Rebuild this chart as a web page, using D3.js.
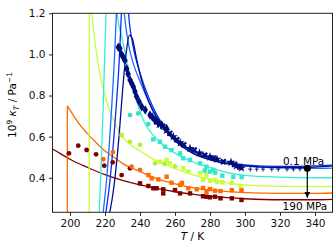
<!DOCTYPE html>
<html>
<head>
<meta charset="utf-8">
<script src="https://cdn.jsdelivr.net/npm/d3@7"></script>
<style>
  body { margin: 0; background: #fff; }
  text { font-family: "DejaVu Sans", sans-serif; }
</style>
</head>
<body>
<div id="chart"></div>
<script>
// tick values
var xTicks = [200, 220, 240, 260, 280, 300, 320, 340];
var yTicks = [0.4, 0.6, 0.8, 1.0, 1.2];

// model curves [T, kappa] (peaks above 1.2 are clipped)
var curveNavy = [[222,0.2],[225,0.35],[228,0.6],[230,0.82],[232,1.0],[234,1.094],[235.5,1.08],[238,0.98],[241,0.87],[245,0.77],[250,0.685],[255,0.625],[260,0.58],[270,0.52],[280,0.487],[290,0.468],[300,0.458],[315,0.451],[330,0.45],[340,0.452],[350,0.458]];
var curveBlue = [[220,0.2],[223,0.4],[226,0.7],[228,0.95],[230,1.3],[231,1.4],[232.5,1.3],[234,1.15],[236,1.04],[240,0.91],[245,0.79],[250,0.7],[260,0.59],[270,0.53],[280,0.495],[290,0.475],[300,0.463],[320,0.455],[340,0.458],[350,0.462]];
var curveRoyal = [[218.5,0.2],[221,0.4],[223.5,0.7],[225.5,1.0],[227,1.3],[228,1.5],[229.5,1.35],[231,1.2],[233,1.07],[236,0.96],[240,0.87],[245,0.77],[250,0.69],[260,0.585],[270,0.525],[280,0.49],[290,0.47],[300,0.458],[320,0.448],[340,0.446],[350,0.447]];
var curveCyan = [[216.5,0.2],[218,0.5],[219.5,0.9],[220.6,1.2],[222,1.6],[224,1.7],[226,1.4],[227,1.2],[230,1.07],[235,0.87],[242,0.68],[250,0.585],[260,0.52],[270,0.478],[280,0.45],[290,0.425],[300,0.412],[320,0.403],[340,0.4],[350,0.4]];
var limeRise = [[211,0.2],[211,1.4]];
var curveLime = [[211,1.4],[212.4,1.2],[214,1.08],[217,0.91],[220,0.8],[225,0.68],[230,0.6],[240,0.53],[250,0.48],[260,0.445],[270,0.415],[280,0.393],[290,0.375],[300,0.365],[320,0.358],[350,0.357]];
var orangeRise = [[198.5,0.2],[198.5,0.75]];
var curveOrange = [[198.5,0.75],[200,0.73],[205,0.665],[210,0.615],[215,0.57],[220,0.53],[225,0.5],[230,0.47],[240,0.43],[250,0.395],[260,0.37],[270,0.352],[280,0.34],[290,0.333],[300,0.328],[320,0.324],[340,0.324],[350,0.326]];
var curveRed = [[190,0.54],[195,0.515],[200,0.49],[210,0.45],[220,0.415],[230,0.387],[240,0.365],[250,0.347],[260,0.332],[270,0.32],[280,0.31],[290,0.303],[300,0.298],[320,0.293],[340,0.293],[350,0.295]];

// measured points [T, kappa]
var navyDiamonds = [[227.6,1.035],[228.5,1.03],[229.5,1.0],[230.5,0.985],[231.4,0.97],[232.4,0.93],[233.2,0.905],[234.3,0.876],[235.2,0.86],[236.2,0.843],[237.1,0.82],[238.1,0.794],[239.5,0.77],[241,0.746],[243,0.73],[245.7,0.705],[247,0.695],[248.6,0.68],[250.5,0.665],[252.4,0.657],[255.2,0.64]];
var navyCrosses = [[249.5,0.672],[253,0.65],[257,0.616],[261,0.585],[265,0.56],[271,0.535],[277,0.51],[282,0.495],[287.6,0.478],[294,0.465],[297,0.452]];
var navyStars = [[251,0.66],[255,0.63],[259,0.6],[263,0.57],[268.6,0.543],[274,0.52],[280,0.502],[284,0.49],[292,0.475],[295,0.458],[298,0.448]];
var navyPlus = [[303,0.442],[306.7,0.442],[310.3,0.442],[315.3,0.442],[319,0.442],[324,0.442],[327.6,0.442],[331.4,0.443]];
var cyanCircles = [[234.3,0.705],[239,0.713],[244.8,0.661]];
var cyanSquares = [[247.6,0.587],[251.4,0.575],[254.3,0.551],[258,0.535],[262.9,0.519],[264.7,0.495],[268.6,0.487],[274.3,0.47],[278,0.454],[281.9,0.438],[277,0.435],[280,0.43],[283,0.425],[287,0.41],[293.3,0.405],[298.1,0.403]];
var limeCircles = [[229.5,0.608],[234.3,0.575],[240,0.56],[248.6,0.47],[254,0.468],[260,0.455]];
var limeSquares = [[251.4,0.478],[255.2,0.487],[257,0.47],[264.7,0.446],[267.6,0.43],[274.3,0.422],[278,0.413],[282.9,0.389],[276,0.39],[280,0.385],[284,0.38],[287,0.378],[292.5,0.375],[297.5,0.36]];
var orangeCircles = [[219,0.49],[224.5,0.525],[235.2,0.454],[240,0.438]];
var orangeSquares = [[244.8,0.413],[246.7,0.397],[250.5,0.392],[255.2,0.405],[258,0.376],[262.9,0.365],[264,0.375],[267.6,0.349],[272.4,0.344],[278,0.332],[282.9,0.337],[276,0.35],[280,0.345],[286,0.335],[292.5,0.34],[298,0.34]];
var redCircles = [[199.4,0.519],[204.7,0.556],[209.5,0.535],[214.9,0.514],[219.6,0.459],[224.4,0.475],[229.5,0.413],[234.3,0.446]];
var redSquares = [[240,0.373],[244.8,0.36],[247.6,0.349],[249.5,0.349],[253.3,0.344],[253.3,0.324],[260,0.34],[262.9,0.324],[268.6,0.324],[278,0.308],[282.9,0.308],[276,0.31],[280,0.305],[286,0.3],[292.5,0.3],[298,0.292]];

// arrow from 0.1 MPa to 190 MPa
var arrowT = 335.6;
var arrowFrom = 0.446, arrowTo = 0.303;

var width = 335, height = 250;
var margin = {top: 13.3, right: 2.5, bottom: 37.7, left: 52.5};

var x = d3.scaleLinear().domain([190, 350]).range([margin.left, width - margin.right]);
var y = d3.scaleLinear().domain([0.232, 1.2]).range([height - margin.bottom, margin.top]);

var svg = d3.select("#chart").append("svg")
  .attr("width", width)
  .attr("height", height);

var defs = svg.append("defs");
defs.append("clipPath").attr("id", "clip")
  .append("rect")
  .attr("x", margin.left).attr("y", margin.top)
  .attr("width", x.range()[1] - margin.left)
  .attr("height", y.range()[0] - margin.top);

var plot = svg.append("g").attr("clip-path", "url(#clip)");

var smooth = d3.line()
  .x(function(d) { return x(d[0]); })
  .y(function(d) { return y(d[1]); })
  .curve(d3.curveMonotoneX);
var straight = d3.line()
  .x(function(d) { return x(d[0]); })
  .y(function(d) { return y(d[1]); });

var curves = [
  {data: curveRed, color: "#800000"},
  {data: orangeRise, color: "#ff6a00", lin: true},
  {data: curveOrange, color: "#ff6a00"},
  {data: limeRise, color: "#c6ff3a", lin: true},
  {data: curveLime, color: "#c6ff3a"},
  {data: curveCyan, color: "#33f0d4"},
  {data: curveRoyal, color: "#1f6bff"},
  {data: curveBlue, color: "#0a2cf0"},
  {data: curveNavy, color: "#00108c"}
];

curves.forEach(function(c) {
  plot.append("path")
    .datum(c.data)
    .attr("fill", "none")
    .attr("stroke", c.color)
    .attr("stroke-width", 1.3)
    .attr("d", c.lin ? straight : smooth);
});

function circles(data, color) {
  plot.selectAll(null).data(data).enter().append("circle")
    .attr("cx", function(d) { return x(d[0]); })
    .attr("cy", function(d) { return y(d[1]); })
    .attr("r", 2.4)
    .attr("fill", color);
}

function squares(data, color) {
  plot.selectAll(null).data(data).enter().append("rect")
    .attr("x", function(d) { return x(d[0]) - 2.2; })
    .attr("y", function(d) { return y(d[1]) - 2.2; })
    .attr("width", 4.4)
    .attr("height", 4.4)
    .attr("fill", color);
}

function symbols(data, type, size, color, rot) {
  plot.selectAll(null).data(data).enter().append("path")
    .attr("transform", function(d) { return "translate(" + x(d[0]) + "," + y(d[1]) + ") rotate(" + (rot || 0) + ")"; })
    .attr("d", d3.symbol().type(type).size(size))
    .attr("fill", color);
}

circles(redCircles, "#800000");
squares(redSquares, "#800000");
circles(orangeCircles, "#f36b10");
squares(orangeSquares, "#ff6a00");
circles(limeCircles, "#b8ee2a");
squares(limeSquares, "#c6ff3a");
circles(cyanCircles, "#33e0c4");
squares(cyanSquares, "#33e8cc");

symbols(navyDiamonds, d3.symbolDiamond, 26, "#000c7a");
symbols(navyCrosses, d3.symbolCross, 26, "#000c7a", 45);
symbols(navyStars, d3.symbolStar, 26, "#000c7a");

plot.selectAll(null).data(navyPlus).enter().append("path")
  .attr("transform", function(d) { return "translate(" + x(d[0]) + "," + y(d[1]) + ")"; })
  .attr("d", "M0,-2.5V2.5M-2,0H2")
  .attr("stroke", "#000c7a")
  .attr("stroke-width", 0.9);

// arrow
defs.append("marker")
  .attr("id", "head")
  .attr("viewBox", "0 0 10 10")
  .attr("refX", 10).attr("refY", 5)
  .attr("markerWidth", 6).attr("markerHeight", 6)
  .attr("markerUnits", "userSpaceOnUse")
  .attr("orient", "auto")
  .append("path").attr("d", "M0,0L10,5L0,10Z").attr("fill", "#000");

svg.append("line")
  .attr("x1", x(arrowT)).attr("x2", x(arrowT))
  .attr("y1", y(arrowFrom)).attr("y2", y(arrowTo))
  .attr("stroke", "#000")
  .attr("stroke-width", 1.2)
  .attr("marker-end", "url(#head)");

svg.append("circle")
  .attr("cx", x(arrowT)).attr("cy", y(arrowFrom))
  .attr("r", 3.6)
  .attr("fill", "#000");

svg.append("text")
  .attr("x", x(arrowT) + 17).attr("y", y(arrowFrom) - 3.5)
  .attr("text-anchor", "end")
  .attr("font-size", 10.5)
  .text("0.1 MPa");

svg.append("text")
  .attr("x", x(arrowT) + 20).attr("y", 210.3)
  .attr("text-anchor", "end")
  .attr("font-size", 10.5)
  .text("190 MPa");

// axes
var xAxis = svg.append("g")
  .attr("transform", "translate(0," + y.range()[0] + ")")
  .call(d3.axisBottom(x).tickValues(xTicks).tickSize(3.5).tickPadding(3.5).tickFormat(d3.format("d")));

var yAxis = svg.append("g")
  .attr("transform", "translate(" + margin.left + ",0)")
  .call(d3.axisLeft(y).tickValues(yTicks).tickSize(3.5).tickPadding(3.5).tickFormat(d3.format(".1f")));

[xAxis, yAxis].forEach(function(a) {
  a.select(".domain").remove();
  a.selectAll("text").attr("font-size", 10.5).attr("fill", "#111").attr("font-family", "DejaVu Sans");
  a.selectAll("line").attr("stroke", "#222");
});

svg.append("rect")
  .attr("x", margin.left).attr("y", margin.top)
  .attr("width", x.range()[1] - margin.left)
  .attr("height", y.range()[0] - margin.top)
  .attr("fill", "none")
  .attr("stroke", "#222")
  .attr("stroke-width", 1);

// axis labels
var xl = svg.append("text")
  .attr("x", (margin.left + x.range()[1]) / 2)
  .attr("y", 240)
  .attr("text-anchor", "middle")
  .attr("font-size", 10.5);
xl.append("tspan").attr("font-style", "italic").text("T");
xl.append("tspan").text(" /  K");

var yl = svg.append("text")
  .attr("transform", "translate(16," + 105 + ") rotate(-90)")
  .attr("text-anchor", "middle")
  .attr("font-size", 10.5);
yl.append("tspan").text("10");
yl.append("tspan").attr("font-size", 7.5).attr("dy", -4).text("9");
yl.append("tspan").attr("dy", 4).text(" ");
yl.append("tspan").attr("font-style", "italic").text("κ");
yl.append("tspan").attr("font-style", "italic").attr("font-size", 7.5).attr("dy", 2.5).text("T");
yl.append("tspan").attr("dy", -2.5).text(" / Pa");
yl.append("tspan").attr("font-size", 7.5).attr("dy", -4).text("−1");
</script>
</body>
</html>
